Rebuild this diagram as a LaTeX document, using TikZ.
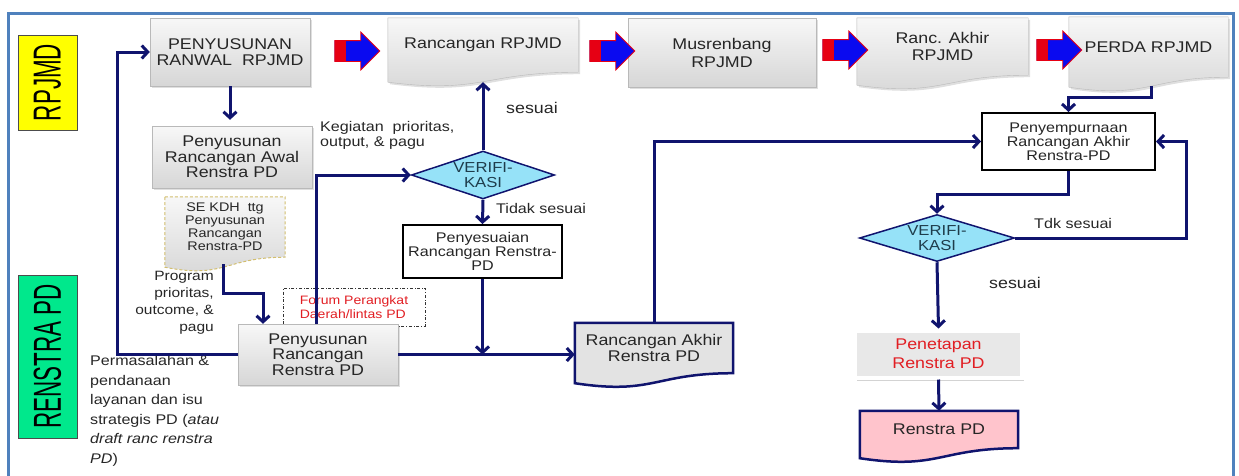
\documentclass[tikz,border=0pt]{standalone}
\usepackage{fontspec}
\setmainfont{Liberation Sans}[FakeStretch=1.15]
\usepackage{graphicx}
\usetikzlibrary{arrows.meta,shapes.geometric,shapes.arrows,calc,shadows,backgrounds}
\definecolor{linec}{RGB}{16,20,110}
\definecolor{framec}{RGB}{79,129,189}
\definecolor{laneyel}{RGB}{255,255,0}
\definecolor{lanegrn}{RGB}{0,232,140}
\definecolor{cyanlt}{RGB}{150,226,248}
\definecolor{tealtxt}{RGB}{30,60,75}
\definecolor{pinkc}{RGB}{255,196,204}
\definecolor{redtxt}{RGB}{225,30,35}
\definecolor{arrred}{RGB}{230,0,20}
\definecolor{arrblue}{RGB}{10,10,240}
\definecolor{sekdash}{RGB}{210,190,110}
\newcommand\bigtxt{\fontsize{15.5}{15.5}\selectfont}
\newcommand\midtxt{\fontsize{14}{14}\selectfont}
\newcommand\smalltxt{\fontsize{12.5}{13}\selectfont}
% wavy bottom of a document box, drawn from the corners of a node
\newcommand\docshape[2]{%
 \path[#2] (#1.north west) -- (#1.north east) -- (#1.south east)
  .. controls (#1.south) and ($(#1.south)+(0,22)$) .. ($(#1.south west)+(0,10)$) -- cycle;}
\tikzset{lane/.style={draw=black!70,line width=0.6pt,minimum width=59pt,inner sep=0pt,font=\fontsize{39}{39}\selectfont},
 greybox/.style={draw=gray!55,top color=gray!6,bottom color=gray!32,align=center,inner sep=2pt,text=black!85,
  font=\bigtxt,drop shadow={opacity=.25,shadow xshift=2pt,shadow yshift=-2pt}},
 doc/.style={align=center,inner sep=2pt,text=black!85,font=\bigtxt},
 docgrey/.style={draw=gray!55,top color=gray!6,bottom color=gray!32,drop shadow={opacity=.25,shadow xshift=2pt,shadow yshift=-2pt}},
 whitebox/.style={draw=black,line width=2pt,fill=white,align=center,inner sep=1pt,text=black!85,font=\midtxt},
 decision/.style={diamond,aspect=3,draw=linec,line width=1.5pt,fill=cyanlt,inner sep=0pt,align=center,text=tealtxt,
  font=\fontsize{14.5}{15}\selectfont},
 blockarr/.style={single arrow,draw=arrred,line width=0.8pt,fill=arrblue,minimum height=45pt,inner sep=0pt,
  text height=10pt,text depth=10pt,single arrow head extend=8.5pt,
  path picture={\fill[arrred] (path picture bounding box.south west) rectangle ([xshift=11pt]path picture bounding box.north west);}},
 lbl/.style={inner sep=0pt,text=black!85,font=\midtxt},
 conn/.style={draw=linec,line width=3pt,-{Straight Barb[length=6pt,width=13pt]}}}
\begin{document}
\begin{tikzpicture}[x=1pt,y=-1pt]
 \useasboundingbox (0,0) rectangle (1239,475);
 \draw[framec,line width=3pt] (8,13) rectangle (1233,482);
 % lanes
 \node[lane,fill=laneyel,minimum height=95pt] (lrpjmd) at (47.5,82.5) {\rotatebox{90}{\scalebox{.5}[1]{RPJMD}}};
 \node[lane,fill=lanegrn,minimum height=163pt] (lrenstra) at (47.5,356.5) {\rotatebox{90}{\scalebox{.5}[1]{RENSTRA PD}}};
 % top row
 \node[greybox,minimum width=160pt,minimum height=68pt] (ranwal) at (230,52) {PENYUSUNAN\\RANWAL~~RPJMD};
 \node[doc,minimum width=190pt,minimum height=54pt] (rrpjmd) at (483,45) {Rancangan RPJMD};
 \node[greybox,minimum width=188pt,minimum height=69pt,font=\fontsize{15.5}{18}\selectfont] (musren) at (722,52.5) {Musrenbang\\RPJMD};
 \node[doc,minimum width=171pt,minimum height=57pt,font=\fontsize{15.5}{16.5}\selectfont] (rakhir) at (942.5,46.5) {Ranc. Akhir\\RPJMD};
 \node[doc,minimum width=159pt,minimum height=60pt] (perda) at (1148.5,47) {PERDA RPJMD};
 \node[blockarr] (ba1) at (352,51) {};
 \node[blockarr] (ba2) at (607,51) {};
 \node[blockarr] (ba3) at (840,50) {};
 \node[blockarr] (ba4) at (1054,50) {};
 % left column
 \node[greybox,minimum width=160pt,minimum height=62pt] (awal) at (232,157) {Penyusunan\\Rancangan Awal\\Renstra PD};
 \node[doc,minimum width=120pt,minimum height=60pt,font=\smalltxt] (sekdh) at (225,227) {SE KDH~~ttg\\Penyusunan\\Rancangan\\Renstra-PD};
 \node[draw=black!80,dash dot,line width=0.5pt,minimum width=142pt,minimum height=38pt,align=left,text=redtxt,
  font=\fontsize{12.2}{14}\selectfont] (forum) at (354,307) {Forum Perangkat\\Daerah/lintas PD};
 \node[greybox,minimum width=160pt,minimum height=61pt] (rrenstra) at (318,354.5) {Penyusunan\\Rancangan\\Renstra PD};
 % middle
 \node[decision,minimum width=143pt,minimum height=48pt] (verif1) at (483,175) {VERIFI-\\KASI};
 \node[whitebox,minimum width=159pt,minimum height=53pt] (penyes) at (482.5,251.5) {Penyesuaian\\Rancangan Renstra-\\PD};
 \node[doc,minimum width=158pt,minimum height=50pt,font=\fontsize{15.5}{16}\selectfont] (rakhirpd) at (654,348) {Rancangan Akhir\\Renstra PD};
 % right column
 \node[whitebox,minimum width=173pt,minimum height=57pt] (penyemp) at (1068.5,141.5) {Penyempurnaan\\Rancangan Akhir\\Renstra-PD};
 \node[decision,minimum width=155pt,minimum height=47pt] (verif2) at (937,238) {VERIFI-\\KASI};
 \node[draw=white,line width=4pt,fill=gray!18,minimum width=167pt,minimum height=47pt,align=center,text=redtxt,
  font=\fontsize{15.5}{19}\selectfont,drop shadow={opacity=.35,shadow xshift=2pt,shadow yshift=-3pt}] (penetapan) at (938.5,354) {Penetapan\\Renstra PD};
 \node[doc,minimum width=158pt,minimum height=37pt] (renstrapd) at (939,429.5) {Renstra PD};
 % labels
 \node[lbl,font=\fontsize{15.5}{16}\selectfont] (ok1) at (532,108) {sesuai};
 \node[lbl,anchor=west,align=left,font=\fontsize{14}{15}\selectfont] (kegiatan) at (320,135.5) {Kegiatan~~prioritas,\\output, \& pagu};
 \node[lbl,anchor=west] (notok1) at (496,208) {Tidak sesuai};
 \node[lbl,anchor=west] (notok2) at (1034,223) {Tdk sesuai};
 \node[lbl,anchor=west,font=\fontsize{15.5}{16}\selectfont] (ok2) at (989,283) {sesuai};
 \node[lbl,anchor=east,align=right,font=\fontsize{13.5}{17}\selectfont] (program) at (214,302.5) {Program\\prioritas,\\outcome, \&\\pagu};
 \node[lbl,anchor=west,align=left,font=\fontsize{14}{19.5}\selectfont] (masalah) at (90,411) {Permasalahan \&\\pendanaan\\layanan dan isu\\strategis PD (\textit{atau}\\\textit{draft ranc renstra}\\\textit{PD})};
 % document outlines
 \begin{pgfonlayer}{background}
  \docshape{rrpjmd}{docgrey}
  \docshape{rakhir}{docgrey}
  \docshape{perda}{docgrey}
  \docshape{sekdh}{top color=gray!6,bottom color=gray!32,draw=sekdash,densely dashed,line width=1pt}
  \docshape{rakhirpd}{fill=gray!22,draw=linec,line width=2.5pt}
  \docshape{renstrapd}{fill=pinkc,draw=linec,line width=2.5pt}
 \end{pgfonlayer}
 % connectors
 \draw[conn] (rrenstra.west) -- ++(-120,0) |- (ranwal.west);
 \draw[conn,shorten >=6pt] (ranwal.south) -- (ranwal.south |- awal.north);
 \draw[conn] ($(sekdh.south)+(-2,7)$) -- ++(0,29) -| ([xshift=-55pt]rrenstra.north);
 \draw[conn] ([xshift=-2pt]rrenstra.north) |- (verif1.west);
 \draw[conn] (verif1.north) -- ($(rrpjmd.south)+(0,10)$);
 \draw[conn] (verif1.south) -- (penyes.north);
 \coordinate (join) at (penyes.south |- rrenstra.east);
 \draw[conn] (penyes.south) -- (join);
 \draw[conn] (rrenstra.east) -- (rrenstra.east -| rakhirpd.west);
 \draw[conn] (rakhirpd.north) |- (penyemp.west);
 \draw[conn] ($(perda.south)+(3,9)$) -- ++(0,11) -| (penyemp.north);
 \draw[conn] (penyemp.south) -- ++(0,23) -| (verif2.north);
 \draw[conn] (verif2.east) -- ++(171,0) |- (penyemp.east);
 \draw[conn] (verif2.south) -- (penetapan.north);
 \draw[conn] (penetapan.south) -- (renstrapd.north);
\end{tikzpicture}
\end{document}
